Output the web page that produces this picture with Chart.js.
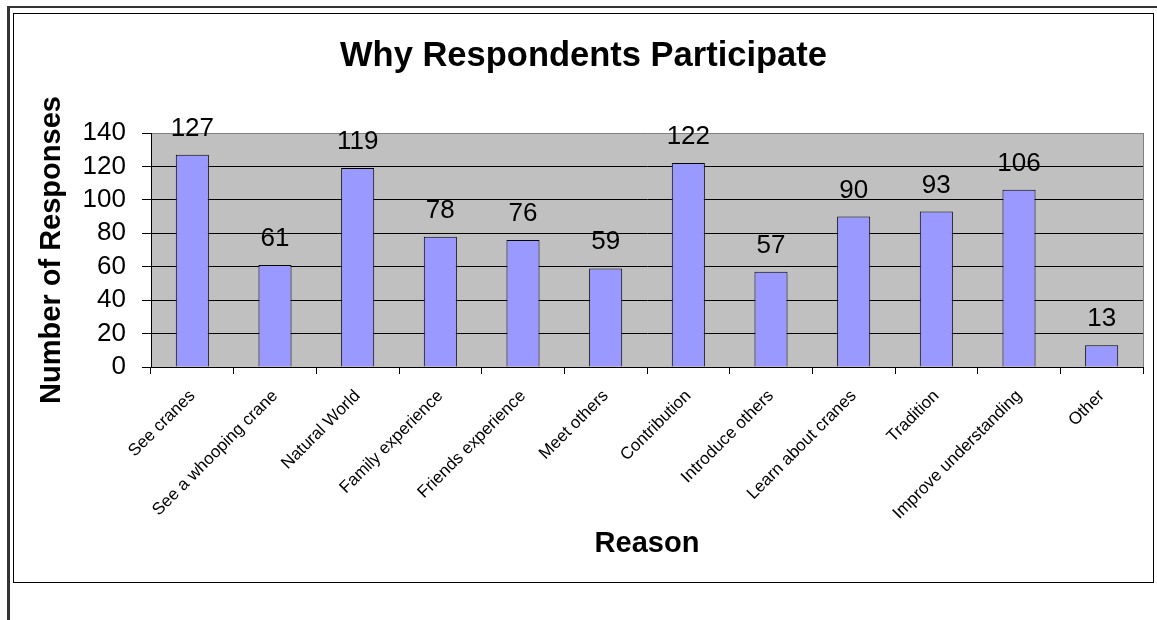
<!DOCTYPE html>
<html>
<head>
<meta charset="utf-8">
<title>Why Respondents Participate</title>
<script src="https://cdn.jsdelivr.net/npm/chart.js@4.4.1/dist/chart.umd.min.js"></script>
<style>
  html, body { margin: 0; padding: 0; background: #fff; }
  body { position: relative; width: 1157px; height: 620px; overflow: hidden; }
  .rule-top { position: absolute; left: 7px; top: 6px; width: 1150px; height: 2px; background: #333; }
  .rule-left { position: absolute; left: 7px; top: 6px; width: 3px; height: 614px; background: #333; }
  .frame { position: absolute; left: 13px; top: 13px; width: 1139px; height: 568px; border: 1px solid #000; }
  canvas { display: block; }
</style>
</head>
<body>
<div class="rule-top"></div>
<div class="rule-left"></div>
<div class="frame">
  <canvas id="chart" width="1139" height="568" style="width:1139px;height:568px"></canvas>
</div>
<script>
// reasons given and number of responses for each
const reasons = [
  'See cranes',
  'See a whooping crane',
  'Natural World',
  'Family experience',
  'Friends experience',
  'Meet others',
  'Contribution',
  'Introduce others',
  'Learn about cranes',
  'Tradition',
  'Improve understanding',
  'Other'
];
const responses = [127, 61, 119, 78, 76, 59, 122, 57, 90, 93, 106, 13];

// value axis range
const yMin = 0;
const yMax = 140;
const yStep = 20;

const FONT = '"Liberation Sans", Arial, Helvetica, sans-serif';
Chart.defaults.font.family = FONT;
Chart.defaults.color = '#000';

// grey plot background with a grey frame on the right
const plotBackground = {
  id: 'plotBackground',
  beforeDraw(chart) {
    const { ctx, chartArea: a } = chart;
    ctx.save();
    ctx.fillStyle = '#C0C0C0';
    ctx.fillRect(a.left, a.top, a.right - a.left, a.bottom - a.top);
    ctx.strokeStyle = '#808080';
    ctx.lineWidth = 1;
    ctx.beginPath();
    ctx.moveTo(Math.round(a.right) + 0.5, a.top);
    ctx.lineTo(Math.round(a.right) + 0.5, a.bottom);
    ctx.stroke();
    ctx.restore();
  }
};

// value printed above every bar
const barValues = {
  id: 'barValues',
  afterDatasetsDraw(chart) {
    const ctx = chart.ctx;
    ctx.save();
    ctx.font = '26px ' + FONT;
    ctx.fillStyle = '#000';
    ctx.textAlign = 'center';
    ctx.textBaseline = 'alphabetic';
    chart.data.datasets.forEach((ds, i) => {
      chart.getDatasetMeta(i).data.forEach((bar, j) => {
        ctx.fillText(ds.data[j], bar.x, bar.y - 19);
      });
    });
    ctx.restore();
  }
};

new Chart(document.getElementById('chart'), {
  type: 'bar',
  data: {
    labels: reasons,
    datasets: [{
      data: responses,
      backgroundColor: '#9999FF',
      borderColor: '#000',
      borderWidth: 1,
      barPercentage: 0.4,
      categoryPercentage: 1
    }]
  },
  plugins: [plotBackground, barValues],
  options: {
    responsive: false,
    animation: false,
    layout: { padding: { left: 10, right: 10, top: 0, bottom: 0 } },
    plugins: {
      legend: { display: false },
      tooltip: { enabled: false },
      title: {
        display: true,
        text: 'Why Respondents Participate',
        color: '#000',
        font: { size: 34.5, weight: 'bold' },
        padding: { top: 22, bottom: 55.6 }
      }
    },
    scales: {
      y: {
        min: yMin,
        max: yMax,
        ticks: {
          stepSize: yStep,
          autoSkip: false,
          padding: 16,
          font: { size: 26 },
          color: '#000'
        },
        grid: {
          color: c => (c.tick && c.tick.value === yMax ? '#808080' : '#000'),
          tickColor: '#000',
          tickLength: 9,
          lineWidth: 1
        },
        border: { display: true, color: '#000', width: 1 },
        title: {
          display: true,
          text: 'Number of Responses',
          font: { size: 29, weight: 'bold' },
          color: '#000',
          padding: { top: 11, bottom: 0 }
        },
        afterFit(scale) { scale.width = 127; }
      },
      x: {
        ticks: {
          autoSkip: false,
          minRotation: 45,
          maxRotation: 45,
          padding: 12,
          font: { size: 17 },
          color: '#000'
        },
        grid: {
          offset: true,
          drawOnChartArea: false,
          drawTicks: true,
          tickLength: 7,
          color: '#000'
        },
        border: { display: true, color: '#000', width: 1 },
        title: {
          display: true,
          text: 'Reason',
          font: { size: 29, weight: 'bold' },
          color: '#000',
          padding: { top: 0, bottom: 21 }
        },
        afterFit(scale) { scale.height = 215; }
      }
    }
  }
});
</script>
</body>
</html>
